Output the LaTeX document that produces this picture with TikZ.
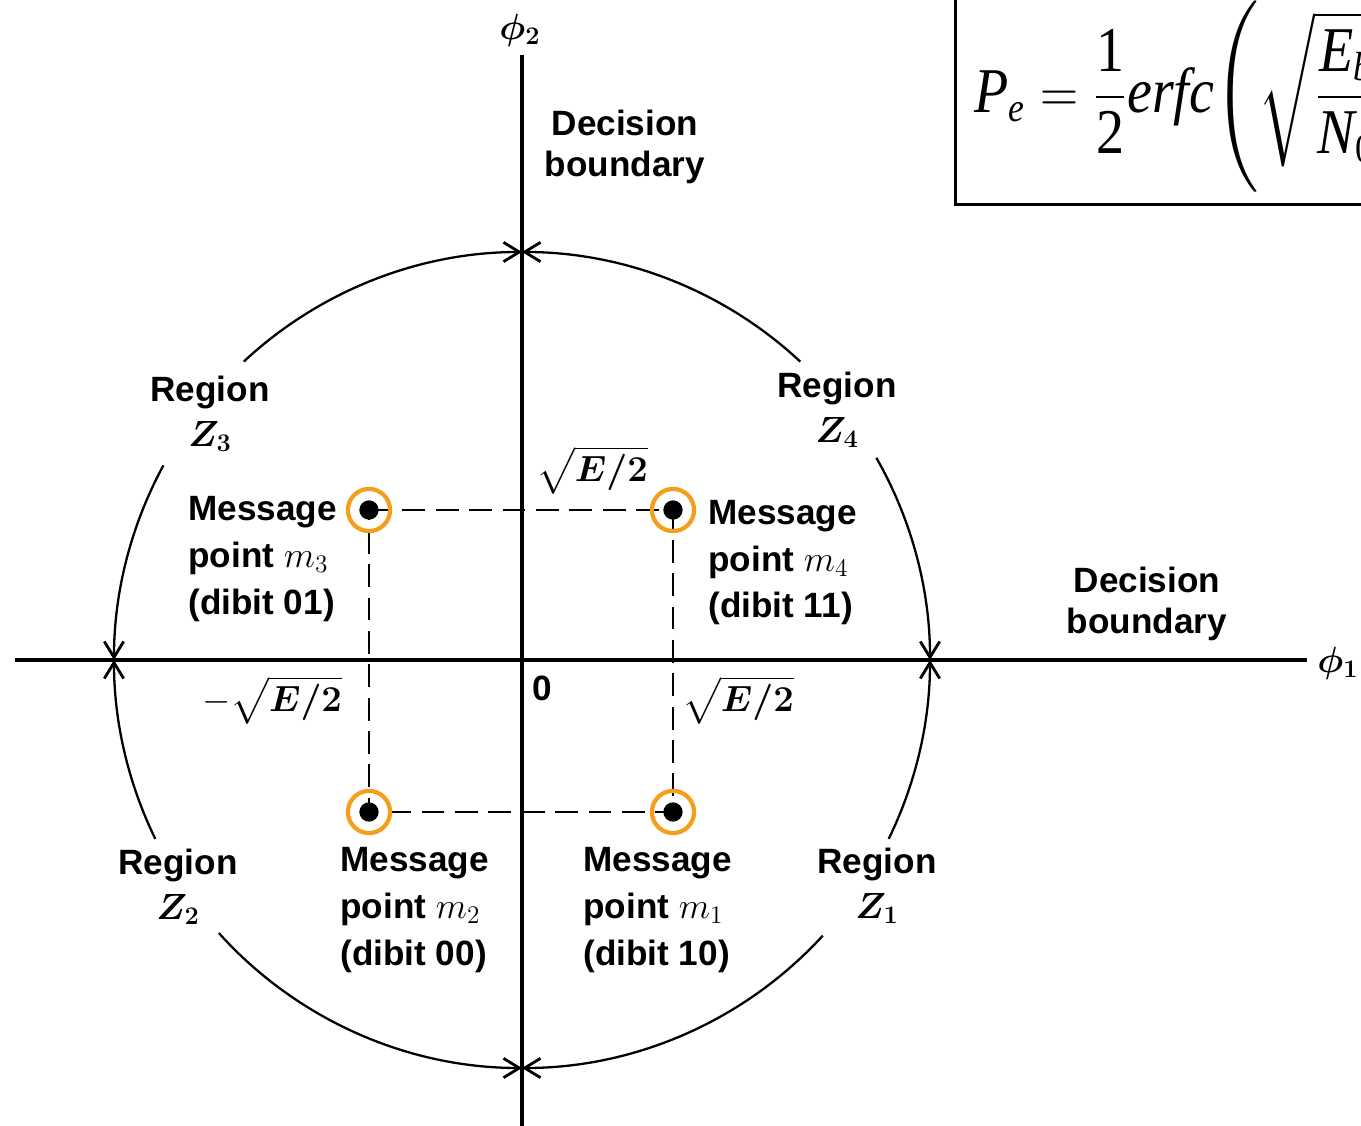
\documentclass[tikz,border=0pt]{standalone}
\usepackage{amsmath,amssymb,bm}
\usepackage{graphicx}
\usepackage[no-math]{fontspec}
\newfontfamily\labfont{Liberation Sans}
\newfontfamily\timesfont{Liberation Serif}
\usetikzlibrary{arrows.meta,positioning}
\definecolor{ring}{HTML}{F59E1B}
\newcommand{\ti}[1]{\mbox{\timesfont\itshape #1}}
\newcommand{\tr}[1]{\mbox{\timesfont #1}}
\newcommand{\tsub}[1]{\mbox{\timesfont\fontsize{14}{14}\selectfont #1}}

\begin{document}
\begin{tikzpicture}[
  x=0.02cm, y=0.02cm,
  axis/.style={line width=2.2pt},
  bound/.style={line width=1.3pt,-{Straight Barb[length=9pt,width=11pt,line width=1.6pt]}},
  dashline/.style={line width=1.3pt,dash pattern=on 13pt off 6pt},
  dot/.style={circle,fill=black,inner sep=0pt,minimum size=11pt},
  halo/.style={circle,draw=ring,line width=2.4pt,inner sep=0pt,minimum size=24pt},
  lab/.style={inner sep=0pt,font=\labfont\bfseries\fontsize{20}{26.5}\selectfont},
  msg/.style={lab,align=left,anchor=west},
  reg/.style={lab,align=center,font=\labfont\bfseries\fontsize{20}{25.5}\selectfont},
  dec/.style={lab,align=center,font=\labfont\bfseries\fontsize{20}{23}\selectfont},
  val/.style={inner sep=0pt,font=\fontsize{22}{26}\selectfont}
]
\useasboundingbox (-522,-465) rectangle (839,660);
\clip (-522,-465) rectangle (839,660);

% axes
\coordinate (O) at (0,0);
\coordinate (xl) at (-507,0);
\coordinate (xr) at (785,0);
\coordinate (yt) at (0,605);
\coordinate (yb) at (0,-470);
\draw[axis] (xl) -- (xr);
\draw[axis] (yt) -- (yb);
\node[lab] (phi1) at (816,-3) {$\bm{\phi_1}$};
\node[lab] (phi2) at (-2,630) {$\bm{\phi_2}$};

% decision circle, arrows at the crossings
\draw[bound] (O) ++(133:408) arc[start angle=133,end angle=90,radius=408];
\draw[bound] (O) ++(47:408) arc[start angle=47,end angle=90,radius=408];
\draw[bound] (O) ++(151.5:408) arc[start angle=151.5,end angle=180,radius=408];
\draw[bound] (O) ++(206:408) arc[start angle=206,end angle=180,radius=408];
\draw[bound] (O) ++(222:408) arc[start angle=222,end angle=270,radius=408];
\draw[bound] (O) ++(317.5:408) arc[start angle=317.5,end angle=270,radius=408];
\draw[bound] (O) ++(29.7:408) arc[start angle=29.7,end angle=0,radius=408];
\draw[bound] (O) ++(-26:408) arc[start angle=-26,end angle=0,radius=408];

% signal points
\coordinate (p1) at (151,-152);
\coordinate (p2) at (-153,-152);
\coordinate (p3) at (-153,150);
\coordinate (p4) at (151,150);
\draw[dashline] (p3) -- (p4) -- (p1) -- (p2) -- cycle;
\foreach \k in {1,...,4}{
  \node[dot] (m\k) at (p\k) {};
  \node[halo] (h\k) at (p\k) {};
}

% labels
\node[dec] (dtop) at (103,513) {Decision\\boundary};
\node[dec] (dright) at (625,56) {Decision\\boundary};
\node[reg] (z3) at (-312,246) {Region\\$\bm{Z_3}$};
\node[reg] (z4) at (315,250) {Region\\$\bm{Z_4}$};
\node[reg] (z2) at (-344,-227) {Region\\$\bm{Z_2}$};
\node[reg] (z1) at (355,-226) {Region\\$\bm{Z_1}$};
\node[msg] (t3) at (-334,101) {Message\\point $m_3$\\(dibit 01)};
\node[msg] (t4) at (186,97) {Message\\point $m_4$\\(dibit 11)};
\node[msg] (t2) at (-182,-250) {Message\\point $m_2$\\(dibit 00)};
\node[msg] (t1) at (61,-250) {Message\\point $m_1$\\(dibit 10)};
\node[val] (vtop) at (70,190) {$\sqrt{\bm{E/2}}$};
\node[val] (vleft) at (-250,-40) {$-\sqrt{\bm{E/2}}$};
\node[val] (vright) at (216,-40) {$\sqrt{\bm{E/2}}$};
\node[lab] (zero) at (20,-28) {0};

% error probability
\draw[line width=1.7pt] (433,455) rectangle (900,680);
\node[anchor=west,inner sep=0pt] (pe) at (452,563)
  {\scalebox{1.45}[1.65]{\fontsize{22}{25}\selectfont $\displaystyle \ti{P}_{\tsub{\itshape e}}=\frac{\tr{1}}{\tr{2}}\ti{erfc}\Bigg(\sqrt{\frac{\ti{E}_{\tsub{\itshape b}}}{\ti{N}_{\tsub{0}}}}\Bigg)$}};
\end{tikzpicture}
\end{document}
